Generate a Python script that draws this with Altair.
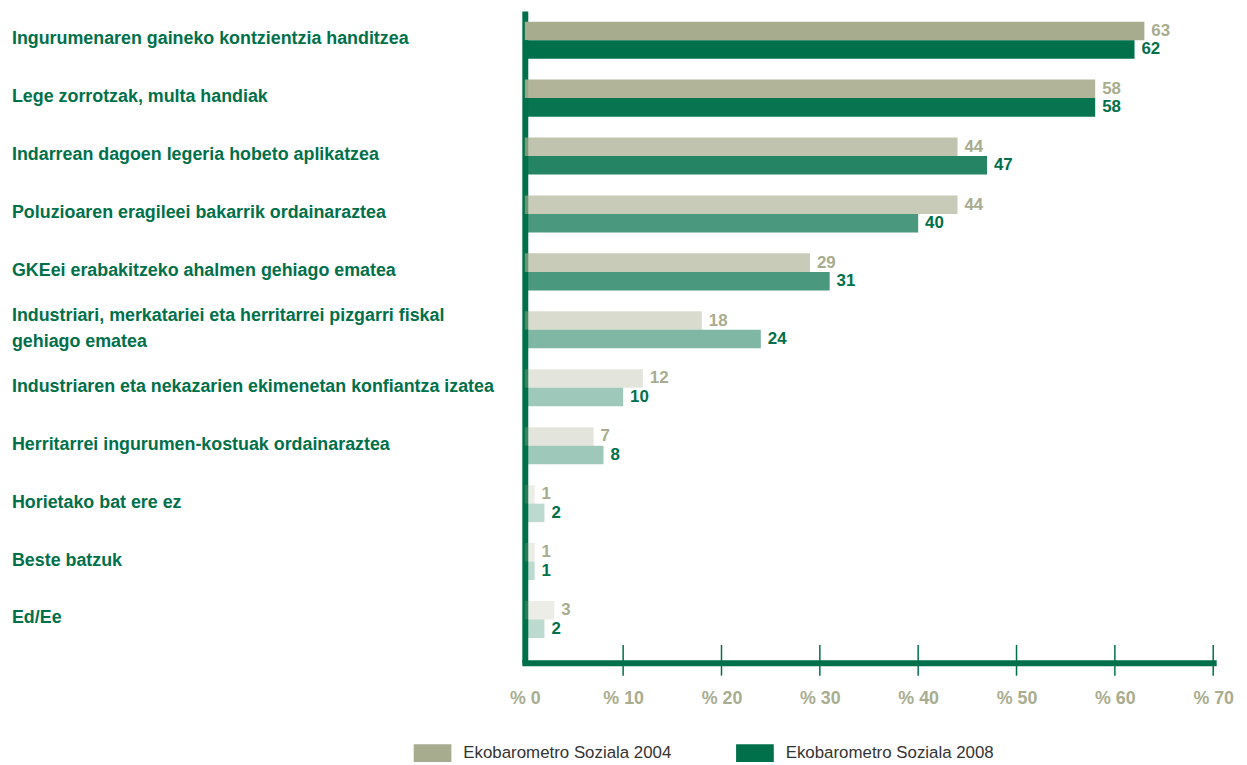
import altair as alt
import pandas as pd

# ---------------- data ----------------
categories = [
    "Ingurumenaren gaineko kontzientzia handitzea",
    "Lege zorrotzak, multa handiak",
    "Indarrean dagoen legeria hobeto aplikatzea",
    "Poluzioaren eragileei bakarrik ordainaraztea",
    "GKEei erabakitzeko ahalmen gehiago ematea",
    "Industriari, merkatariei eta herritarrei pizgarri fiskal|gehiago ematea",
    "Industriaren eta nekazarien ekimenetan konfiantza izatea",
    "Herritarrei ingurumen-kostuak ordainaraztea",
    "Horietako bat ere ez",
    "Beste batzuk",
    "Ed/Ee",
]
values_2004 = [63, 58, 44, 44, 29, 18, 12, 7, 1, 1, 3]
values_2008 = [62, 58, 47, 40, 31, 24, 10, 8, 2, 1, 2]
series = ["Ekobarometro Soziala 2004", "Ekobarometro Soziala 2008"]
x_ticks = [0, 10, 20, 30, 40, 50, 60, 70]

# ---------------- styles ----------------
series_colors = ["#a8ac8e", "#00704a"]
shade_2004 = [1.0, 0.9, 0.72, 0.63, 0.63, 0.43, 0.32, 0.32, 0.22, 0.22, 0.22]
shade_2008 = [1.0, 0.97, 0.86, 0.71, 0.71, 0.5, 0.38, 0.38, 0.26, 0.26, 0.26]
GREEN = "#00704a"
GREY_TXT = "#a9ad8f"
FONT = "Liberation Sans"

rows = []
for i, c in enumerate(categories):
    rows.append({"category": c, "series": series[0], "value": values_2004[i], "shade": shade_2004[i]})
    rows.append({"category": c, "series": series[1], "value": values_2008[i], "shade": shade_2008[i]})
df = pd.DataFrame(rows)
cat_df = pd.DataFrame({"category": categories})
tick_df = pd.DataFrame({"tick": x_ticks[1:]})

W, H = 694, 657

y_enc = alt.Y(
    "category:N",
    sort=categories,
    scale=alt.Scale(paddingInner=0.36, paddingOuter=0.305, align=0.3),
    axis=alt.Axis(labels=False, ticks=False, title=None, grid=False,
                  domainColor=GREEN, domainWidth=6),
)
yoff_enc = alt.YOffset("series:N", sort=series,
                       scale=alt.Scale(paddingInner=0, paddingOuter=0))
x_axis = alt.Axis(values=x_ticks, labelExpr="'% ' + datum.value", title=None,
                  grid=False, ticks=False, domainColor=GREEN, domainWidth=6,
                  domainCap="square", labelColor=GREY_TXT, labelFont=FONT,
                  labelFontSize=18, labelFontWeight="bold", labelPadding=27,
                  labelFlush=False)
x_enc = alt.X("value:Q", scale=alt.Scale(domain=[0, 70], nice=False), axis=x_axis)

legend = alt.Legend(
    title=None, orient="none", direction="horizontal", legendX=-112, legendY=729,
    symbolType="M-1,-0.47H1V0.47H-1Z", symbolSize=1444, symbolStrokeWidth=0,
    symbolOpacity=1, labelFont=FONT, labelFontSize=17, labelColor="#333333",
    labelOffset=12, labelLimit=400, columnPadding=65, padding=0,
)
color_enc = alt.Color("series:N", sort=series,
                      scale=alt.Scale(domain=series, range=series_colors),
                      legend=legend)

bars = alt.Chart(df).mark_bar().encode(
    x=x_enc, y=y_enc, yOffset=yoff_enc, color=color_enc,
    opacity=alt.Opacity("shade:Q", scale=None),
)

value_labels = alt.Chart(df).mark_text(
    align="left", baseline="middle", dx=7, font=FONT, fontSize=17, fontWeight="bold"
).encode(
    x=alt.X("value:Q"), y=alt.Y("category:N", sort=categories), yOffset=yoff_enc,
    text="value:Q", color=color_enc,
)

tick_rules = alt.Chart(tick_df).mark_rule(color=GREEN, strokeWidth=1.5).encode(
    x=alt.X("tick:Q"), y=alt.value(639), y2=alt.value(670)
)

label_style = dict(align="left", baseline="middle", lineBreak="|", lineHeight=26,
                   font=FONT, fontSize=18, fontWeight="bold", color=GREEN)
cat_labels = alt.Chart(cat_df).transform_filter(
    "indexof(datum.category, '|') < 0"
).mark_text(dy=-1, **label_style).encode(
    y=alt.Y("category:N", sort=categories), x=alt.value(-517), text="category:N"
)
cat_labels_multi = alt.Chart(cat_df).transform_filter(
    "indexof(datum.category, '|') >= 0"
).mark_text(dy=-14, **label_style).encode(
    y=alt.Y("category:N", sort=categories), x=alt.value(-517), text="category:N"
)

chart = alt.layer(bars, value_labels, tick_rules, cat_labels, cat_labels_multi).properties(
    width=W, height=H,
    padding={"left": 4, "top": 0, "right": 5, "bottom": 0},
).configure_view(stroke=None)

chart.save("out.html", embed_options={"renderer": "svg", "actions": False})
